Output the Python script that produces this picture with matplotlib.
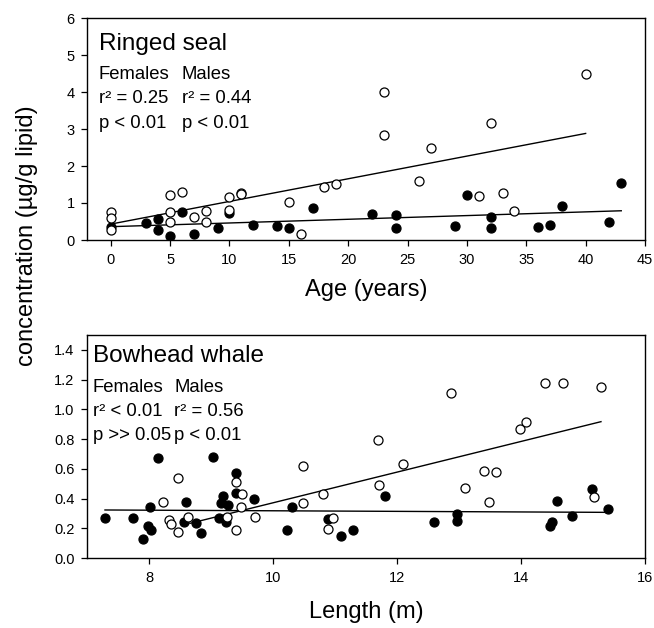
import matplotlib
matplotlib.use("Agg")
import matplotlib.pyplot as plt
import numpy as np

plt.rcParams['font.family'] = ['Liberation Sans', 'DejaVu Sans']

# ---------------- Ringed seal (top) ----------------
seal_open_age = [0, 0, 0, 5, 6, 5, 5, 7, 8, 8, 10, 10, 11, 11, 15, 16, 18, 19,
                 23, 23, 27, 26, 32, 31, 33, 34, 40]
seal_open_conc = [0.76, 0.59, 0.27, 1.22, 1.31, 0.76, 0.50, 0.61, 0.79, 0.50, 1.15, 0.80,
                  1.28, 1.24, 1.03, 0.15, 1.42, 1.51, 4.01, 2.84, 2.49, 1.59, 3.15, 1.20,
                  1.28, 0.79, 4.50]
seal_fill_age = [0, 3, 4, 4, 5, 6, 7, 9, 10, 12, 14, 15, 17, 22, 24, 24, 29, 30, 32, 32,
                 36, 37, 38, 42, 43]
seal_fill_conc = [0.36, 0.47, 0.57, 0.27, 0.11, 0.76, 0.15, 0.33, 0.74, 0.40, 0.38, 0.33,
                  0.86, 0.69, 0.68, 0.33, 0.39, 1.22, 0.63, 0.33, 0.36, 0.40, 0.93, 0.50, 1.53]
seal_open_fit_x = [0, 40]
seal_open_fit_y = [0.43, 2.88]
seal_fill_fit_x = [0, 43]
seal_fill_fit_y = [0.36, 0.79]

# ---------------- Bowhead whale (bottom) ----------------
whale_fill_len = [7.29, 7.74, 7.91, 7.99, 8.04, 8.02, 8.15, 8.60, 8.57, 8.76, 8.84, 9.03,
                  9.19, 9.16, 9.28, 9.13, 9.24, 9.41, 9.40, 9.69, 10.22, 10.30, 10.89, 11.09,
                  11.29, 11.81, 12.59, 12.97, 12.97, 14.58, 14.50, 14.46, 14.82, 15.14, 15.40]
whale_fill_conc = [0.27, 0.27, 0.13, 0.215, 0.19, 0.345, 0.67, 0.38, 0.24, 0.235, 0.166, 0.68,
                   0.42, 0.37, 0.357, 0.27, 0.24, 0.57, 0.44, 0.40, 0.19, 0.34, 0.26, 0.148,
                   0.19, 0.42, 0.24, 0.296, 0.251, 0.386, 0.245, 0.215, 0.283, 0.464, 0.332]
whale_open_len = [8.23, 8.46, 8.32, 8.35, 8.46, 8.63, 9.40, 9.50, 9.48, 9.26, 9.41, 9.71,
                  10.49, 10.48, 10.80, 10.96, 10.88, 11.69, 11.71, 12.09, 12.87, 13.10, 13.41,
                  13.59, 13.49, 13.98, 14.08, 14.39, 14.68, 15.29, 15.17]
whale_open_conc = [0.377, 0.54, 0.256, 0.227, 0.177, 0.278, 0.51, 0.43, 0.34, 0.278, 0.19,
                   0.274, 0.62, 0.372, 0.43, 0.267, 0.195, 0.794, 0.49, 0.63, 1.108, 0.469,
                   0.585, 0.577, 0.379, 0.868, 0.913, 1.18, 1.18, 1.153, 0.413]
whale_open_fit_x = [8.66, 15.29]
whale_open_fit_y = [0.233, 0.917]
whale_fill_fit_x = [7.29, 15.40]
whale_fill_fit_y = [0.323, 0.307]

seal_xticks = [0, 5, 10, 15, 20, 25, 30, 35, 40, 45]
seal_yticks = [0, 1, 2, 3, 4, 5, 6]
whale_xticks = [8, 10, 12, 14, 16]
whale_yticks = [0.0, 0.2, 0.4, 0.6, 0.8, 1.0, 1.2, 1.4]

W, H = 654, 628
fig = plt.figure(figsize=(W / 100, H / 100), dpi=100)

def ax_rect(l, r, t, b):
    return [l / W, 1 - b / H, (r - l) / W, (b - t) / H]

ax1 = fig.add_axes(ax_rect(87, 645, 18, 240))
ax2 = fig.add_axes(ax_rect(87, 645, 335, 558))

ms = 6.5
mew = 0.9

def style(ax):
    for s in ax.spines.values():
        s.set_linewidth(1.0)
    ax.tick_params(direction='out', length=4, width=0.9, labelsize=10.5, pad=5)

# top
ax1.plot(seal_fill_fit_x, seal_fill_fit_y, color='black', lw=1.0, zorder=2)
ax1.plot(seal_open_fit_x, seal_open_fit_y, color='black', lw=1.0, zorder=2)
ax1.plot(seal_fill_age, seal_fill_conc, 'o', ms=ms, mfc='black', mec='black', mew=mew,
         ls='none', zorder=3)
ax1.plot(seal_open_age, seal_open_conc, 'o', ms=ms, mfc='white', mec='black', mew=mew,
         ls='none', zorder=4)
ax1.set_xlim(-2, 45)
ax1.set_ylim(0, 6)
ax1.set_xticks(seal_xticks)
ax1.set_yticks(seal_yticks)
ax1.set_xlabel('Age (years)', fontsize=17, labelpad=9)
style(ax1)

tf = ax1.transAxes
ax1.text(0.021, 0.856, 'Ringed seal', transform=tf, fontsize=17.5, va='baseline')
ax1.text(0.021, 0.725, 'Females', transform=tf, fontsize=13.3, va='baseline')
ax1.text(0.170, 0.725, 'Males', transform=tf, fontsize=13.3, va='baseline')
ax1.text(0.021, 0.617, 'r² = 0.25', transform=tf, fontsize=13.3, va='baseline')
ax1.text(0.170, 0.617, 'r² = 0.44', transform=tf, fontsize=13.3, va='baseline')
ax1.text(0.021, 0.505, 'p < 0.01', transform=tf, fontsize=13.3, va='baseline')
ax1.text(0.170, 0.505, 'p < 0.01', transform=tf, fontsize=13.3, va='baseline')

# bottom
ax2.plot(whale_fill_fit_x, whale_fill_fit_y, color='black', lw=1.0, zorder=2)
ax2.plot(whale_open_fit_x, whale_open_fit_y, color='black', lw=1.0, zorder=2)
ax2.plot(whale_fill_len, whale_fill_conc, 'o', ms=ms, mfc='black', mec='black', mew=mew,
         ls='none', zorder=3)
ax2.plot(whale_open_len, whale_open_conc, 'o', ms=ms, mfc='white', mec='black', mew=mew,
         ls='none', zorder=4)
ax2.set_xlim(7, 16)
ax2.set_ylim(0, 1.5)
ax2.set_xticks(whale_xticks)
ax2.set_yticks(whale_yticks)
ax2.set_yticklabels([f'{v:.1f}' for v in whale_yticks])
ax2.set_xlabel('Length (m)', fontsize=17, labelpad=12)
style(ax2)

tb = ax2.transAxes
ax2.text(0.010, 0.880, 'Bowhead whale', transform=tb, fontsize=17.5, va='baseline')
ax2.text(0.010, 0.746, 'Females', transform=tb, fontsize=13.3, va='baseline')
ax2.text(0.156, 0.746, 'Males', transform=tb, fontsize=13.3, va='baseline')
ax2.text(0.010, 0.637, 'r² < 0.01', transform=tb, fontsize=13.3, va='baseline')
ax2.text(0.156, 0.637, 'r² = 0.56', transform=tb, fontsize=13.3, va='baseline')
ax2.text(0.010, 0.529, 'p >> 0.05', transform=tb, fontsize=13.3, va='baseline')
ax2.text(0.156, 0.529, 'p < 0.01', transform=tb, fontsize=13.3, va='baseline')

fig.text(27 / W, 1 - 236 / H, 'concentration (µg/g lipid)', rotation=90,
         fontsize=17, ha='center', va='center')

fig.savefig('out.png', dpi=100)
